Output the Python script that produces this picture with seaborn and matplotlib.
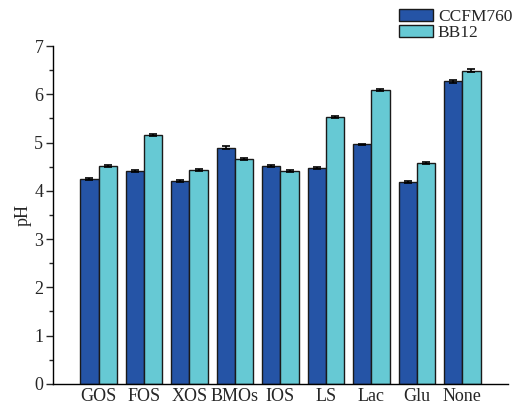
import pandas as pd
import numpy as np
import matplotlib
matplotlib.use("Agg")
import matplotlib.pyplot as plt
import seaborn as sns

sugars = ["GOS", "FOS", "XOS", "BMOs", "IOS", "LS", "Lac", "Glu", "None"]
strains = ["CCFM760", "BB12"]
ph_ccfm = [4.24, 4.42, 4.21, 4.89, 4.52, 4.48, 4.96, 4.19, 6.27]
ph_bb12 = [4.52, 5.15, 4.44, 4.66, 4.41, 5.52, 6.09, 4.58, 6.49]
err_ccfm = [0.02, 0.02, 0.02, 0.03, 0.02, 0.02, 0.02, 0.02, 0.03]
err_bb12 = [0.02, 0.02, 0.02, 0.02, 0.02, 0.02, 0.03, 0.02, 0.03]

COLORS = {"CCFM760": "#2554A6", "BB12": "#66C9D4"}

sns.set_style("ticks")
plt.rcParams["font.family"] = ["Liberation Serif", "DejaVu Serif"]
plt.rcParams["font.size"] = 13

df = pd.DataFrame({
    "sugar": sugars * 2,
    "strain": [strains[0]] * len(sugars) + [strains[1]] * len(sugars),
    "pH": ph_ccfm + ph_bb12,
    "err": err_ccfm + err_bb12,
})

fig = plt.figure(figsize=(5.15, 4.11), dpi=100)
ax = fig.add_axes([0.103, 0.066, 0.883, 0.822])

sns.barplot(data=df, x="sugar", y="pH", hue="strain", order=sugars,
            hue_order=strains, palette=COLORS, errorbar=None, width=0.8,
            edgecolor="#1a1a1a", linewidth=1.0, saturation=1, ax=ax)

# error bars on top of each bar
for cont, strain in zip(ax.containers, strains):
    sub = df[df["strain"] == strain].set_index("sugar").loc[sugars]
    xs = [b.get_x() + b.get_width() / 2 for b in cont]
    ax.errorbar(xs, sub["pH"].values, yerr=sub["err"].values, fmt="none",
                ecolor="black", elinewidth=1.2, capsize=3, capthick=1.2)

ax.set_xlim(-1, 9)
ax.set_ylim(0, 7)
ax.set_yticks(range(0, 8))
ax.set_yticks(np.arange(0.5, 7, 1), minor=True)
ax.tick_params(axis="y", which="major", length=5, width=1, direction="out", labelsize=13, pad=2)
ax.tick_params(axis="y", which="minor", length=3, width=1, direction="out")
ax.tick_params(axis="x", length=0, labelsize=13, pad=3)
ax.set_xlabel("")
ax.set_ylabel("pH", fontsize=13, labelpad=2)
for s in ["top", "right"]:
    ax.spines[s].set_visible(False)
for s in ["left", "bottom"]:
    ax.spines[s].set_linewidth(1)
    ax.spines[s].set_color("black")

ax.legend(loc="upper left", bbox_to_anchor=(0.745, 1.13), frameon=False,
          fontsize=12.5, handlelength=2.0, handleheight=0.7, labelspacing=0.0,
          handletextpad=0.25, borderaxespad=0)

fig.savefig("out.png", dpi=100)
